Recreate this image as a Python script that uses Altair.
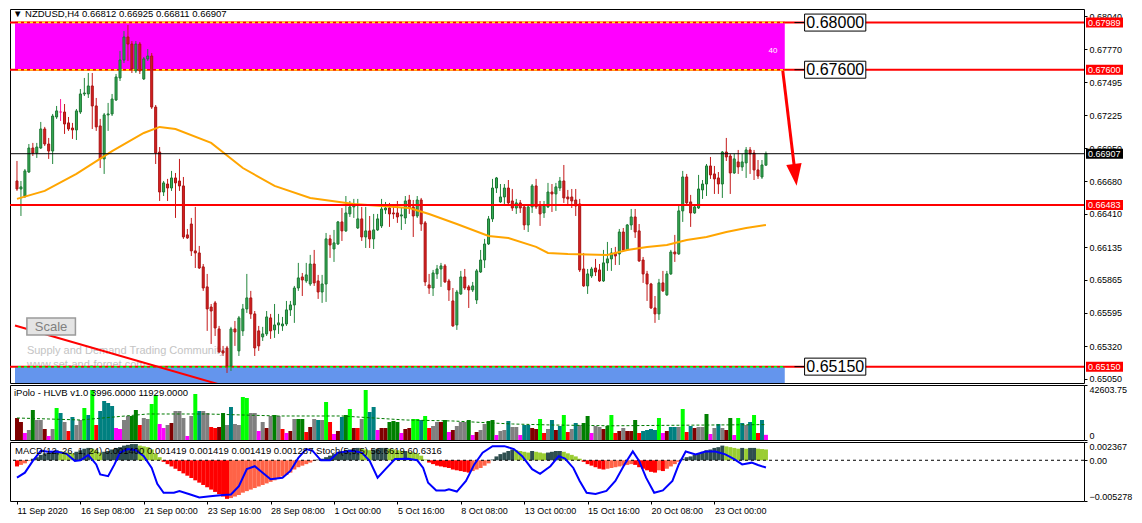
import json
import altair as alt
import numpy as np
import pandas as pd

FONT = "Liberation Sans"
W = 1074
H_MAIN, H_VOL, H_MACD = 374, 55, 59

# ---------------- candles (NZDUSD H4) ----------------
OPEN = [0.66682,0.66616,0.66558,0.66756,0.66954,0.66913,0.66954,0.67111,0.66987,0.66929,
0.67210,0.67251,0.67251,0.67161,0.67119,0.67103,0.67251,0.67400,0.67400,0.67466,
0.67301,0.67136,0.66864,0.67227,0.67235,0.67350,0.67532,0.67680,0.67870,0.67812,
0.67590,0.67812,0.67524,0.67689,0.67713,0.67292,0.66921,0.66591,0.66657,0.66624,
0.66707,0.66682,0.66641,0.66237,0.66327,0.66105,0.66088,0.65973,0.65808,0.65642,
0.65676,0.65461,0.65280,0.65304,0.65155,0.65461,0.65280,0.65445,0.65626,0.65717,
0.65585,0.65445,0.65395,0.65420,0.65552,0.65453,0.65494,0.65486,0.65502,0.65618,
0.65659,0.65799,0.65890,0.65857,0.65832,0.65997,0.65857,0.65766,0.65832,0.66204,
0.66121,0.66162,0.66344,0.66270,0.66410,0.66468,0.66294,0.66369,0.66220,0.66270,
0.66204,0.66278,0.66311,0.66443,0.66459,0.66418,0.66418,0.66393,0.66377,0.66525,
0.66468,0.66393,0.66525,0.66336,0.65824,0.65799,0.65915,0.65956,0.65981,0.65857,
0.65692,0.65494,0.65750,0.65890,0.65808,0.65783,0.65700,0.65931,0.66030,0.66162,
0.66369,0.66624,0.66509,0.66550,0.66624,0.66517,0.66459,0.66501,0.66468,0.66319,
0.66468,0.66641,0.66484,0.66418,0.66468,0.66591,0.66575,0.66624,0.66682,0.66550,
0.66550,0.66525,0.66492,0.65956,0.65816,0.65898,0.65964,0.65948,0.65857,0.66006,
0.66039,0.66088,0.66080,0.66261,0.66113,0.66319,0.66385,0.66270,0.66030,0.65915,
0.65832,0.65634,0.65585,0.65841,0.65742,0.65915,0.66096,0.66080,0.66435,0.66715,
0.66509,0.66418,0.66459,0.66608,0.66657,0.66806,0.66740,0.66707,0.66657,0.66921,
0.66888,0.66748,0.66839,0.66798,0.66831,0.66938,0.66913,0.66773,0.66715,0.66812]
HIGH = [0.66847,0.66682,0.66781,0.66987,0.66996,0.66996,0.67169,0.67128,0.67037,0.67235,
0.67301,0.67358,0.67317,0.67210,0.67161,0.67276,0.67441,0.67532,0.67573,0.67573,
0.67367,0.67194,0.67243,0.67326,0.67400,0.67565,0.67755,0.67919,0.67969,0.67837,
0.67837,0.67829,0.67705,0.67771,0.67738,0.67309,0.66962,0.66682,0.66699,0.66765,
0.66748,0.66864,0.66715,0.66286,0.66377,0.66468,0.66146,0.65997,0.65915,0.65667,
0.65692,0.65486,0.65321,0.65321,0.65478,0.65527,0.65568,0.65667,0.65915,0.65775,
0.65609,0.65486,0.65478,0.65609,0.65585,0.65667,0.65585,0.65560,0.65692,0.65692,
0.65816,0.66006,0.65923,0.66006,0.66072,0.66113,0.65907,0.65907,0.66253,0.66237,
0.66278,0.66352,0.66459,0.66558,0.66517,0.66534,0.66534,0.66468,0.66468,0.66393,
0.66410,0.66410,0.66534,0.66509,0.66501,0.66468,0.66517,0.66459,0.66558,0.66567,
0.66525,0.66558,0.66542,0.66352,0.65915,0.65948,0.65989,0.66006,0.65997,0.65874,
0.65799,0.65783,0.65940,0.65956,0.65824,0.65849,0.65956,0.66113,0.66204,0.66393,
0.66699,0.66715,0.66657,0.66657,0.66690,0.66616,0.66534,0.66525,0.66476,0.66492,
0.66657,0.66699,0.66517,0.66517,0.66666,0.66657,0.66666,0.66715,0.66814,0.66608,
0.66616,0.66616,0.66534,0.66088,0.65956,0.65973,0.66039,0.65997,0.66113,0.66179,
0.66129,0.66138,0.66286,0.66294,0.66327,0.66451,0.66451,0.66327,0.66055,0.65940,
0.65841,0.65733,0.65874,0.65940,0.65940,0.66113,0.66237,0.66476,0.66765,0.66740,
0.66567,0.66492,0.66732,0.66690,0.66822,0.66880,0.66806,0.66756,0.66929,0.67037,
0.66905,0.66905,0.66938,0.66905,0.66962,0.66962,0.66938,0.66855,0.66855,0.66925]
LOW = [0.66600,0.66393,0.66542,0.66748,0.66888,0.66872,0.66946,0.66971,0.66864,0.66822,
0.67194,0.67177,0.67070,0.67095,0.67029,0.67020,0.67235,0.67383,0.67367,0.67111,
0.67095,0.66789,0.66740,0.67095,0.67218,0.67342,0.67507,0.67655,0.67672,0.67573,
0.67573,0.67565,0.67515,0.67672,0.67276,0.66822,0.66517,0.66558,0.66517,0.66600,
0.66377,0.66600,0.66204,0.66204,0.66063,0.65964,0.65956,0.65775,0.65445,0.65337,
0.65403,0.65263,0.65238,0.65098,0.65114,0.65321,0.65238,0.65403,0.65593,0.65544,
0.65238,0.65280,0.65362,0.65403,0.65379,0.65387,0.65420,0.65445,0.65486,0.65568,
0.65511,0.65775,0.65733,0.65841,0.65816,0.65816,0.65709,0.65676,0.65684,0.66047,
0.66014,0.66154,0.66187,0.66261,0.66385,0.66377,0.66286,0.66187,0.66129,0.66129,
0.66121,0.66270,0.66294,0.66410,0.66303,0.66369,0.66336,0.66278,0.66327,0.66410,
0.66220,0.66377,0.66270,0.65816,0.65750,0.65733,0.65874,0.65808,0.65841,0.65692,
0.65478,0.65453,0.65742,0.65783,0.65634,0.65766,0.65667,0.65923,0.65964,0.66154,
0.66344,0.66583,0.66501,0.66492,0.66484,0.66435,0.66410,0.66418,0.66278,0.66261,
0.66418,0.66451,0.66311,0.66377,0.66459,0.66426,0.66435,0.66600,0.66501,0.66492,
0.66459,0.66393,0.65931,0.65808,0.65750,0.65882,0.65898,0.65849,0.65849,0.65940,
0.65940,0.65989,0.65989,0.66105,0.66105,0.66278,0.66212,0.66014,0.65841,0.65692,
0.65626,0.65511,0.65535,0.65766,0.65733,0.65907,0.66014,0.66072,0.66344,0.66492,
0.66303,0.66410,0.66451,0.66534,0.66558,0.66699,0.66575,0.66575,0.66542,0.66847,
0.66575,0.66740,0.66740,0.66765,0.66707,0.66740,0.66690,0.66699,0.66699,0.66811]
CLOSE = [0.66616,0.66633,0.66765,0.66954,0.66913,0.66962,0.67111,0.66987,0.66929,0.67218,
0.67260,0.67251,0.67152,0.67111,0.67103,0.67260,0.67400,0.67408,0.67466,0.67301,
0.67128,0.66864,0.67227,0.67235,0.67358,0.67540,0.67680,0.67870,0.67812,0.67606,
0.67812,0.67590,0.67689,0.67713,0.67292,0.66913,0.66591,0.66666,0.66624,0.66707,
0.66666,0.66641,0.66220,0.66212,0.66105,0.66088,0.65964,0.65799,0.65626,0.65609,
0.65469,0.65271,0.65263,0.65155,0.65461,0.65436,0.65552,0.65626,0.65717,0.65585,
0.65304,0.65321,0.65420,0.65560,0.65445,0.65494,0.65511,0.65502,0.65618,0.65659,
0.65799,0.65882,0.65865,0.65907,0.65997,0.65841,0.65766,0.65832,0.66204,0.66154,
0.66171,0.66344,0.66270,0.66418,0.66468,0.66492,0.66369,0.66220,0.66270,0.66204,
0.66278,0.66369,0.66451,0.66459,0.66410,0.66410,0.66385,0.66402,0.66517,0.66459,
0.66393,0.66525,0.66327,0.65849,0.65799,0.65923,0.65956,0.65981,0.65849,0.65783,
0.65486,0.65766,0.65890,0.65799,0.65783,0.65816,0.65940,0.66030,0.66162,0.66369,
0.66624,0.66707,0.66550,0.66624,0.66501,0.66459,0.66501,0.66459,0.66319,0.66468,
0.66641,0.66468,0.66410,0.66476,0.66591,0.66575,0.66633,0.66682,0.66542,0.66534,
0.66517,0.66476,0.65948,0.65816,0.65915,0.65956,0.65931,0.65857,0.66006,0.66039,
0.66088,0.66063,0.66261,0.66113,0.66319,0.66385,0.66261,0.66022,0.65915,0.65832,
0.65634,0.65585,0.65841,0.65775,0.65915,0.66096,0.66080,0.66435,0.66715,0.66501,
0.66418,0.66468,0.66616,0.66657,0.66806,0.66732,0.66699,0.66657,0.66921,0.66880,
0.66748,0.66864,0.66798,0.66839,0.66938,0.66905,0.66773,0.66723,0.66814,0.66907]

# moving average (orange), read at these bars
MA_BAR = [0,7,15,24,32,36,40,49,57,65,74,85,99,104,111,119,124,131,134,139,149,154,159,164,169,174,179,184,189]
MA_VAL = [0.66534,0.66600,0.66740,0.66929,0.67078,0.67128,0.67111,0.66996,0.66789,0.66641,0.66542,
          0.66492,0.66459,0.66410,0.66327,0.66228,0.66212,0.66138,0.66088,0.66080,0.66072,0.66113,
          0.66138,0.66154,0.66195,0.66220,0.66261,0.66294,0.66319]

# ---------------- volume (iPolo HLVB) ----------------
VOLUME = [17050,13950,5425,7750,23250,15500,15500,8525,3100,8525,
24800,20925,13950,6975,17825,11625,15500,24800,19375,38750,
11625,22475,30225,28675,26350,9300,8525,15500,18600,18600,
23250,11625,17050,16275,27900,34875,12400,9300,11625,13175,
22475,22475,17050,3100,18600,35650,22475,22475,20925,10075,
9300,10075,20925,11625,25575,12400,11625,33325,32550,20925,
20925,6975,13950,9300,18600,19375,18600,8525,5425,6975,
16275,16275,16275,6200,10075,16275,15500,15500,29450,13950,
4650,6975,17825,19375,24025,9300,9300,16275,38750,21700,
25575,7750,9300,9300,13950,14725,13950,5425,8525,9300,
16275,16275,15500,18600,9300,10850,13950,13950,15500,6200,
7750,10850,13950,13950,15500,3875,6200,7750,12400,14725,
15500,3875,6975,7750,14725,10075,10075,3875,11625,11625,
9300,8525,16275,5425,8525,15500,7750,10850,19375,6200,
8525,13175,11625,13175,18600,5425,10850,10075,8525,10850,
19375,5425,6975,9300,6975,6975,15500,5425,6975,7750,
8525,7750,17050,5425,6975,10075,10075,10075,24025,6200,
10850,9300,10075,10075,20150,4650,9300,12400,9300,7750,
17050,3875,17050,13175,11625,13950,19375,5425,15500,3996]
VOL_CLASS = ("MMPGDGGMPG" "LTGRTGGLTL" "RTTTTPPGGD" "DRGGLLPPGM" "GGGPGLTGGR"
             "RMDGTGGLLG" "GPGMGDGRPM" "GDDRMGTGLR" "PMTDLMRGLT" "TPMMDDDPMM"
             "LLTLRGGMDP" "MGGGDPMGGD" "DPGGTGGPTT" "MMLRGTMTLR" "GTGDDPGGMD"
             "LRMGMMDRTT" "TTLPMTTGLR" "TMGGDPGTGM" "DPLTGTLRTP")
VOL_MA_BAR = [0,16,33,48,66,82,98,110,125,135,150,170,189]
VOL_MA_VAL = [17050,15500,20150,20150,18600,18600,15500,14725,12400,11625,11000,11500,11929]

# ---------------- MACD(12,26,1,24) histogram + Stoch(5,5,5) ----------------
MACD = [-0.0008,-0.0006,-0.0004,-0.0001,0.0002,0.0004,0.0007,0.0009,0.0010,0.0012,
0.0013,0.0012,0.0011,0.0010,0.0009,0.0011,0.0013,0.0015,0.0016,0.0015,
0.0013,0.0010,0.0011,0.0012,0.0014,0.0016,0.0017,0.0019,0.0020,0.0021,
0.0021,0.0019,0.0018,0.0017,0.0014,0.0009,0.0004,-0.0002,-0.0005,-0.0008,
-0.0011,-0.0014,-0.0017,-0.0020,-0.0023,-0.0026,-0.0029,-0.0032,-0.0035,-0.0038,
-0.0041,-0.0044,-0.0047,-0.0050,-0.0049,-0.0047,-0.0045,-0.0042,-0.0040,-0.0038,
-0.0036,-0.0034,-0.0032,-0.0030,-0.0028,-0.0026,-0.0024,-0.0021,-0.0019,-0.0016,
-0.0012,-0.0009,-0.0007,-0.0005,-0.0003,-0.0001,0.0001,0.0002,0.0004,0.0006,
0.0008,0.0010,0.0011,0.0013,0.0014,0.0015,0.0016,0.0015,0.0014,0.0013,
0.0014,0.0015,0.0016,0.0016,0.0015,0.0014,0.0013,0.0012,0.0012,0.0011,
0.0010,0.0009,0.0006,0.0001,-0.0003,-0.0005,-0.0007,-0.0008,-0.0009,-0.0010,
-0.0012,-0.0013,-0.0014,-0.0015,-0.0016,-0.0014,-0.0012,-0.0010,-0.0007,-0.0004,
0.0001,0.0005,0.0008,0.0010,0.0012,0.0014,0.0013,0.0012,0.0011,0.0010,
0.0012,0.0011,0.0010,0.0009,0.0010,0.0011,0.0012,0.0012,0.0011,0.0009,
0.0007,0.0005,0.0002,-0.0002,-0.0005,-0.0007,-0.0009,-0.0011,-0.0012,-0.0011,
-0.0010,-0.0009,-0.0008,-0.0007,-0.0006,-0.0005,-0.0006,-0.0009,-0.0011,-0.0013,
-0.0015,-0.0016,-0.0013,-0.0014,-0.0011,-0.0008,-0.0005,-0.0002,0.0002,0.0004,
0.0005,0.0007,0.0009,0.0011,0.0013,0.0014,0.0016,0.0017,0.0019,0.0018,
0.0017,0.0016,0.0015,0.0016,0.0015,0.0016,0.0016,0.0015,0.00145,0.0014]
STOCH_BAR = [0,2,4,6,8,10,12.5,14.6,16,18,20,21,23,24.6,26,28,30,32,34,35.4,37,39.6,41,43.75,46,
             48.75,52,54,56,58,60,62,64,67,69,71,73,74.6,76.7,79,81,84.6,87,89,91,93,95.4,98.75,
             101,102.5,103.75,105.8,108,109,111,113.3,115.4,117.5,120,123,125.4,127.5,130,132,
             134.6,136.7,138.3,140.4,142,143.75,146,148.75,151,153.3,155.4,157,158.75,160.8,163,
             165.4,167,168.75,171.25,173.75,176.25,178.75,181,183,185.4,187,189]
STOCH_VAL = [39.5,48,68,85,83.6,84,80,68,69,78,62,45,42,62,82,88,86,76,56,29,14,14,17,11,6,
             8,10,11,25,54,59,48,37,39.5,51,73,88,85,69,69,82,85,82,68,39.5,54,71,71.5,
             69,56,31,18,18,20,16,34,62,82,93,93,88,76,54,46,
             59,76,72,56,34,14,12,17,34,62,84,68,39.5,14,18,
             34,62,84,79,84,84,79,71,62,65,61,56.66]

TIME_TICKS = [0,16,32,48,64,80,96,112,128,144,160,176]
TIME_LABELS = ["11 Sep 2020","16 Sep 08:00","21 Sep 00:00","23 Sep 16:00","28 Sep 08:00",
               "1 Oct 00:00","5 Oct 16:00","8 Oct 08:00","13 Oct 00:00","15 Oct 16:00",
               "20 Oct 08:00","23 Oct 00:00"]
PRICE_TICKS = [0.68040,0.67770,0.67495,0.67225,0.66950,0.66680,0.66410,0.66135,0.65865,0.65595,0.65320,0.65050]

# levels / annotations
SUPPLY_TOP, SUPPLY_BOT = 0.67989, 0.67600
DEMAND_TOP = 0.65150
LEVEL_MID = 0.66483
LAST_PRICE = 0.66907
ZONE_END = 193.75
BOX_PRICE = [0.67989, 0.67600, 0.65150]
BOX_TEXT = ["0.68000", "0.67600", "0.65150"]
TAG_PRICE = [0.67989, 0.67600, 0.66483, 0.65150]

n = len(OPEN)
assert len(HIGH) == n and len(LOW) == n and len(CLOSE) == n
assert len(VOLUME) == n and len(VOL_CLASS) == n and len(MACD) == n
assert len(STOCH_BAR) == len(STOCH_VAL) and len(MA_BAR) == len(MA_VAL)

AX = dict(title=None, tickSize=3, labelPadding=2, domain=False, grid=False)
xs = alt.Scale(domain=[-0.5, 268], nice=False, zero=False)
ys = alt.Scale(domain=[0.65015, 0.68101], nice=False, zero=False)
main_axis = alt.Axis(orient="right", values=PRICE_TICKS, format=".5f", labelFlush=False, **AX)
time_axis = alt.Axis(values=TIME_TICKS, labelAlign="left", labelFlush=False, labelOverlap=False,
                     labelExpr=json.dumps(TIME_LABELS) + "[round(datum.value / 16)]", **AX)
XN = lambda f: alt.X(f, type="quantitative", scale=xs, axis=None)
XT = lambda f: alt.X(f, type="quantitative", scale=xs, axis=time_axis)
YN = lambda f: alt.Y(f, type="quantitative", scale=ys, axis=main_axis)

cdf = pd.DataFrame({"i": range(n), "o": OPEN, "h": HIGH, "l": LOW, "c": CLOSE})
cdf["dir"] = np.where(cdf.c > cdf.o, "up", np.where(cdf.c < cdf.o, "down", "doji"))
DIRS = ["up", "down", "doji"]

one = pd.DataFrame({"a": [0]})

# ---- main panel layers ----
water = alt.Chart(pd.DataFrame({"x": [2.5, 2.5], "y": [0.65278, 0.65160],
                                "t": ["Supply and Demand Trading Community", "www.set-and-forget.com"]})
    ).mark_text(align="left", baseline="middle", font=FONT, fontSize=11, color="#C4C4C4"
    ).encode(x=XN("x"), y=YN("y"), text="t:N")

back_lines = alt.Chart(pd.DataFrame({"p": [SUPPLY_TOP, SUPPLY_BOT, DEMAND_TOP]})).mark_rule(
    color="#FF0000", strokeWidth=2).encode(y=YN("p"))

supply = alt.Chart(pd.DataFrame({"x0": [-0.5], "x1": [ZONE_END], "y0": [SUPPLY_BOT], "y1": [SUPPLY_TOP]})
    ).mark_rect(color="#FF00FF").encode(x=XN("x0"), x2="x1", y=YN("y0"), y2="y1")
demand = alt.Chart(pd.DataFrame({"x0": [-0.5], "x1": [ZONE_END], "y0": [0.6490], "y1": [DEMAND_TOP]})
    ).mark_rect(color="#6495ED", clip=True).encode(x=XN("x0"), x2="x1", y=YN("y0"), y2="y1")

edge_df_s = pd.DataFrame({"x0": [-0.5, -0.5], "x1": [ZONE_END, ZONE_END], "y": [SUPPLY_TOP, SUPPLY_BOT]})
edge_df_d = pd.DataFrame({"x0": [-0.5], "x1": [ZONE_END], "y": [DEMAND_TOP]})
edge_s = alt.Chart(edge_df_s).mark_rule(color="#FFFF00", strokeWidth=1.5).encode(x=XN("x0"), x2="x1", y=YN("y"))
edge_d = alt.Chart(edge_df_d).mark_rule(color="#00FF00", strokeWidth=1.5).encode(x=XN("x0"), x2="x1", y=YN("y"))
edge_r = alt.Chart(pd.concat([edge_df_s, edge_df_d])).mark_rule(
    color="#FF0000", strokeWidth=1.5, strokeDash=[3, 3]).encode(x=XN("x0"), x2="x1", y=YN("y"))

forty = alt.Chart(pd.DataFrame({"x": [190.8], "y": [0.67755], "t": ["40"]})).mark_text(
    font=FONT, fontSize=8, color="white", baseline="middle").encode(x=XN("x"), y=YN("y"), text="t:N")

wicks = alt.Chart(cdf).mark_rule(strokeWidth=1).encode(
    x=XN("i"), y=YN("l"), y2="h:Q",
    color=alt.Color("dir:N", scale=alt.Scale(domain=DIRS, range=["#23873D", "#C41A1A", "#FF1493"]), legend=None))
bodies = alt.Chart(cdf).mark_bar(size=2, strokeWidth=1).encode(
    x=XN("i"), y=YN("o"), y2="c:Q",
    fill=alt.Fill("dir:N", scale=alt.Scale(domain=DIRS, range=["#34AE55", "#DA2020", "#FF1493"]), legend=None),
    stroke=alt.Stroke("dir:N", scale=alt.Scale(domain=DIRS, range=["#1C7432", "#A81414", "#FF1493"]), legend=None))

ma = alt.Chart(pd.DataFrame({"b": MA_BAR, "v": MA_VAL})).mark_line(color="#FFA500", strokeWidth=2).encode(
    x=XN("b"), y=YN("v"))

mid_line = alt.Chart(pd.DataFrame({"p": [LEVEL_MID]})).mark_rule(color="#FF0000", strokeWidth=2).encode(y=YN("p"))
last_line = alt.Chart(pd.DataFrame({"p": [LAST_PRICE]})).mark_rule(color="black", strokeWidth=1).encode(y=YN("p"))

trend = alt.Chart(pd.DataFrame({"b": [-0.5, 51.5], "p": [0.65489, 0.64999]})).mark_line(
    color="#FF0000", strokeWidth=2, clip=True).encode(x=XN("b"), y=YN("p"))

arrow_line = alt.Chart(pd.DataFrame({"b": [193.25, 196.3], "p": [0.67590, 0.66760]})).mark_line(
    color="#FF0000", strokeWidth=3).encode(x=XN("b"), y=YN("p"))
arrow_head = alt.Chart(pd.DataFrame({"b": [196.4], "p": [0.66732]})).mark_point(
    shape="M-0.7,-1L0.7,-1L0,1Z", filled=True, color="#FF0000", opacity=1, size=484, angle=353).encode(
    x=XN("b"), y=YN("p"))

box_df = pd.DataFrame({"p": BOX_PRICE, "t": BOX_TEXT, "x0": 198.75, "x1": 214.2, "xm": 206.5, "xt": 196.2})
box_tick = alt.Chart(box_df).mark_rule(color="black", strokeWidth=1).encode(x=XN("xt"), x2="x0", y=YN("p"))
box_rect = alt.Chart(box_df).mark_rect(fill="white", stroke="black", strokeWidth=1, yOffset=-8.5, y2Offset=8.5
    ).encode(x=XN("x0"), x2="x1", y=YN("p"), y2="p:Q")
box_text = alt.Chart(box_df).mark_text(font=FONT, fontSize=16, color="black", baseline="middle").encode(
    x=XN("xm"), y=YN("p"), text="t:N")

tag_rect = alt.Chart(pd.DataFrame({"p": TAG_PRICE})).mark_rect(color="#FF0000", yOffset=-5, y2Offset=5).encode(
    x=alt.value(W + 2), x2=alt.value(W + 39), y=YN("p"), y2="p:Q")
tag_rect_k = alt.Chart(pd.DataFrame({"p": [LAST_PRICE]})).mark_rect(color="black", yOffset=-5, y2Offset=5).encode(
    x=alt.value(W + 2), x2=alt.value(W + 39), y=YN("p"), y2="p:Q")
tag_text = alt.Chart(pd.DataFrame({"p": TAG_PRICE + [LAST_PRICE]})).mark_text(
    font=FONT, fontSize=9, color="white", align="left", baseline="middle").encode(
    x=alt.value(W + 4), y=YN("p"), text=alt.Text("p:Q", format=".5f"))

scale_btn = alt.Chart(pd.DataFrame({"x0": [2.5], "x1": [14.75], "y0": [0.65411], "y1": [0.65552]})).mark_rect(
    fill="#E4E4E4", stroke="#9A9A9A", strokeWidth=1.5).encode(x=XN("x0"), x2="x1", y=YN("y0"), y2="y1")
scale_txt = alt.Chart(pd.DataFrame({"x": [8.6], "y": [0.65481], "t": ["Scale"]})).mark_text(
    font=FONT, fontSize=13, color="#808080", baseline="middle").encode(x=XN("x"), y=YN("y"), text="t:N")

title_txt = alt.Chart(one).mark_text(font=FONT, fontSize=9.5, color="black", align="left", baseline="middle",
    text="\u25BC NZDUSD,H4  0.66812 0.66925 0.66811 0.66907").encode(x=alt.value(3), y=alt.value(5))

main = alt.layer(water, back_lines, supply, demand, edge_s, edge_d, edge_r, forty, wicks, bodies, ma,
                 mid_line, last_line, trend, arrow_line, arrow_head, box_tick, box_rect, box_text,
                 tag_rect, tag_rect_k, tag_text, scale_btn, scale_txt, title_txt
                 ).properties(width=W, height=H_MAIN)

# ---- volume panel ----
vdf = pd.DataFrame({"i": range(n), "v": VOLUME, "k": list(VOL_CLASS)})
vscale = alt.Scale(domain=[0, 42603.75], nice=False, zero=True)
vaxis = alt.Axis(orient="right", values=[0, 42603.75], labelFlush=True,
                 labelExpr="datum.value == 0 ? '0' : format(datum.value, '.2f')", **AX)
vol_bars = alt.Chart(vdf).mark_bar(size=4).encode(
    x=XN("i"),
    y=alt.Y("v:Q", scale=vscale, axis=vaxis),
    color=alt.Color("k:N", scale=alt.Scale(domain=list("GLDTRMP"),
                    range=["#808080", "#00FF00", "#008000", "#008080", "#FF0000", "#800000", "#FF00FF"]), legend=None))
vol_ma = alt.Chart(pd.DataFrame({"b": VOL_MA_BAR, "v": VOL_MA_VAL})).mark_line(
    color="#007A00", strokeWidth=1, strokeDash=[3, 2]).encode(x=XN("b"), y=alt.Y("v:Q", scale=vscale, axis=vaxis))
vol_txt = alt.Chart(one).mark_text(font=FONT, fontSize=9.5, color="black", align="left", baseline="middle",
    text="iPolo - HLVB v1.0 3996.0000 11929.0000").encode(x=alt.value(4), y=alt.value(8))
vol = alt.layer(vol_bars, vol_ma, vol_txt).properties(width=W, height=H_VOL)

# ---- MACD panel ----
mcol = []
for k, m in enumerate(MACD):
    prev = MACD[k - 1] if k > 0 else None
    if m >= 0:
        mcol.append("pu" if prev is None or m >= prev else "pd")
    else:
        mcol.append("nd" if prev is None or m < prev else "nu")
mdf = pd.DataFrame({"i": range(n), "m": MACD, "z": 0.0, "k": mcol})
mscale = alt.Scale(domain=[-0.005278, 0.002367], nice=False, zero=False)
maxis = alt.Axis(orient="right", values=[-0.005278, 0, 0.002367], labelFlush=True,
                 labelExpr="datum.value == 0 ? '0.00' : format(datum.value, '.6f')", **AX)
macd_bars = alt.Chart(mdf).mark_bar(size=4).encode(
    x=XT("i"),
    y=alt.Y("m:Q", scale=mscale, axis=maxis),
    y2="z:Q",
    color=alt.Color("k:N", scale=alt.Scale(domain=["pu", "pd", "nd", "nu"],
                    range=["#2F4F4F", "#9ACD32", "#FF0000", "#FF6347"]), legend=None))
zero_line = alt.Chart(pd.DataFrame({"z": [0.0]})).mark_rule(color="black", strokeDash=[3, 3], strokeWidth=1).encode(
    y=alt.Y("z:Q", scale=mscale, axis=maxis))
macd_part = alt.layer(macd_bars, zero_line)
stoch = alt.Chart(pd.DataFrame({"b": STOCH_BAR, "s": STOCH_VAL})).mark_line(color="#0000FF", strokeWidth=2).encode(
    x=XT("b"), y=alt.Y("s:Q", scale=alt.Scale(domain=[0, 100], nice=False), axis=None))
macd_txt = alt.Chart(one).mark_text(font=FONT, fontSize=9.5, color="black", align="left", baseline="middle",
    text="MACD(12, 26, 1, 24) 0.001400 0.001419 0.001419 0.001419 0.001287  Stoch(5,5,5) 56.6619 60.6316"
    ).encode(x=alt.value(5), y=alt.value(9))
macd = alt.layer(macd_part, stoch, macd_txt).resolve_scale(y="independent").properties(
    width=W, height=H_MACD)

chart = alt.VConcatChart(vconcat=[main, vol, macd], spacing=2, bounds="flush", padding=0).resolve_scale(
    x="independent", y="independent", color="independent", fill="independent", stroke="independent"
).configure_view(stroke="black", strokeWidth=1, fill="white").configure_axis(
    labelFont=FONT, labelFontSize=9, labelColor="black", tickColor="black")

chart.save("out.html", embed_options={"renderer": "svg", "actions": False})
